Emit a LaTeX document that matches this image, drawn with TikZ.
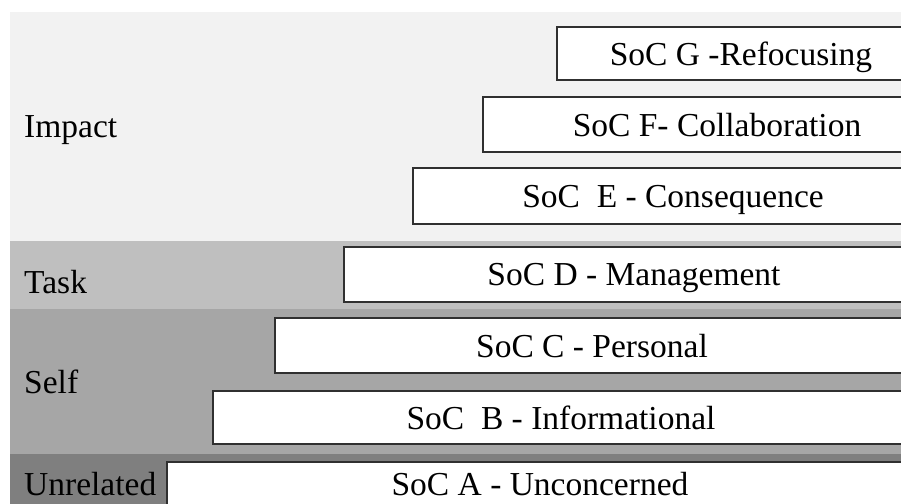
\documentclass[tikz,border=0pt]{standalone}
\usepackage{fontspec}
\setmainfont{Liberation Serif}
\definecolor{impactc}{HTML}{F2F2F2}
\definecolor{taskc}{HTML}{BFBFBF}
\definecolor{selfc}{HTML}{A6A6A6}
\definecolor{unrelc}{HTML}{7F7F7F}
\definecolor{edgec}{HTML}{303030}
\tikzset{
  band/.style={draw=none},
  socbox/.style={draw=edgec, fill=white, line width=1.8pt},
  soctext/.style={anchor=base, inner sep=0pt, font=\fontsize{33.5}{38}\selectfont, text=black},
  levellabel/.style={anchor=base west, inner sep=0pt, font=\fontsize{33.5}{38}\selectfont, text=black}
}
\begin{document}
\begin{tikzpicture}[x=1pt,y=-1pt]
\useasboundingbox (0,0) rectangle (901,503);
\clip (0,0) rectangle (901,503);
\fill[white] (0,0) rectangle (901,503);
% bands
\fill[impactc] (10,12) rectangle (920,241);
\fill[taskc] (10,241) rectangle (920,309);
\fill[selfc] (10,309) rectangle (920,454);
\fill[unrelc] (10,454) rectangle (920,520);
% level labels
\node[levellabel] (impact) at (24,137) {Impact};
\node[levellabel] (task) at (24,293) {Task};
\node[levellabel] (self) at (24,393) {Self};
\node[levellabel] (unrel) at (24,495) {Unrelated};
% boxes
\draw[socbox] (557,27) rectangle (920,80);
\draw[socbox] (483,97) rectangle (920,152);
\draw[socbox] (413,168) rectangle (920,224);
\draw[socbox] (344,247) rectangle (920,302);
\draw[socbox] (275,318) rectangle (920,373);
\draw[socbox] (213,391) rectangle (920,444);
\draw[socbox] (167,462) rectangle (920,530);
% box texts
\node[soctext] (g) at (741,65) {SoC G -Refocusing};
\node[soctext] (f) at (717,136) {SoC F- Collaboration};
\node[soctext] (e) at (673,207) {SoC~~E - Consequence};
\node[soctext] (d) at (634,285) {SoC D - Management};
\node[soctext] (c) at (592,357) {SoC C - Personal};
\node[soctext] (b) at (561,429) {SoC~~B - Informational};
\node[soctext] (a) at (540,495) {SoC A - Unconcerned};
\end{tikzpicture}
\end{document}
